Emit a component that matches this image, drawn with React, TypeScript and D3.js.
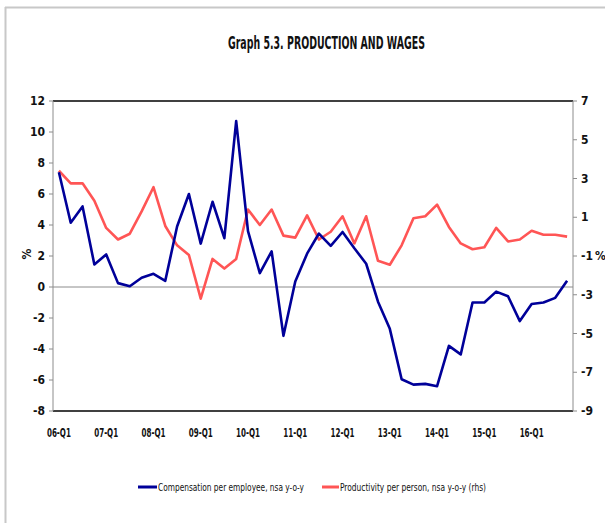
import React from 'react';
import * as d3 from 'd3';

// quarters 06-Q1 .. 16-Q4
const years = ['06', '07', '08', '09', '10', '11', '12', '13', '14', '15', '16'];
const quarters = years.flatMap(y => ['Q1', 'Q2', 'Q3', 'Q4'].map(q => `${y}-${q}`));

const compensation = [
  7.4, 4.15, 5.2, 1.45, 2.1, 0.25, 0.05, 0.6, 0.85, 0.4,
  3.9, 6.0, 2.8, 5.5, 3.15, 10.7, 3.6, 0.9, 2.3, -3.15,
  0.35, 2.15, 3.45, 2.65, 3.55, 2.5, 1.5, -0.95, -2.7, -5.95,
  -6.3, -6.25, -6.4, -3.8, -4.35, -1.0, -1.0, -0.3, -0.6, -2.2,
  -1.1, -1.0, -0.7, 0.4,
];

const productivity = [
  3.4, 2.75, 2.75, 1.85, 0.45, -0.15, 0.15, 1.3, 2.55, 0.55,
  -0.45, -0.95, -3.2, -1.15, -1.65, -1.15, 1.4, 0.6, 1.4, 0.05,
  -0.05, 1.1, -0.15, 0.25, 1.05, -0.35, 1.05, -1.25, -1.45, -0.45,
  0.95, 1.05, 1.65, 0.5, -0.35, -0.65, -0.55, 0.45, -0.25, -0.15,
  0.3, 0.1, 0.1, 0.0,
];

const leftTicks = [12, 10, 8, 6, 4, 2, 0, -2, -4, -6, -8];
const rightTicks = [7, 5, 3, 1, -1, -3, -5, -7, -9];

const W = 605;
const H = 523;
const m = { left: 53, right: 573, top: 101, bottom: 411 };
const font = "'DejaVu Sans Condensed', 'DejaVu Sans', sans-serif";
const BLUE = '#000099';
const RED = '#FF5555';
const txt = { fontStretch: 'condensed' as const };

export default function App() {
  const x = d3.scaleBand<string>().domain(quarters).range([m.left, m.right]).padding(0);
  const cx = (q: string) => (x(q) ?? 0) + x.bandwidth() / 2;
  const yL = d3.scaleLinear().domain([-8, 12]).range([m.bottom, m.top]);
  const yR = d3.scaleLinear().domain([-9, 7]).range([m.bottom, m.top]);

  const lineL = d3.line<number>().x((_, i) => cx(quarters[i])).y(d => yL(d));
  const lineR = d3.line<number>().x((_, i) => cx(quarters[i])).y(d => yR(d));

  return (
    <div style={{ position: 'absolute', left: 0, top: 0 }}>
      <svg width={W} height={H} style={{ display: 'block', fontFamily: font }}>
        <rect x={0} y={0} width={W} height={H} fill="#fff" />
        {/* outer frame */}
        <line x1={5.5} y1={7} x2={5.5} y2={H} stroke="#c8c8c8" strokeWidth={2} />
        <line x1={5} y1={7.5} x2={W} y2={7.5} stroke="#c8c8c8" strokeWidth={2} />

        <text x={228} y={49} fontSize={17} fontWeight="bold" fill="#111" style={txt}
          textLength={197} lengthAdjust="spacingAndGlyphs">
          Graph 5.3. PRODUCTION AND WAGES
        </text>

        {/* zero line */}
        <line x1={m.left} x2={m.right} y1={yL(0)} y2={yL(0)} stroke="#8c8c8c" strokeWidth={1} />

        {/* plot frame */}
        <line x1={m.left} x2={m.right} y1={m.top} y2={m.top} stroke="#000" strokeWidth={1.5} />
        <line x1={m.left} x2={m.right} y1={m.bottom} y2={m.bottom} stroke="#000" strokeWidth={1.5} />
        <line x1={m.left} x2={m.left} y1={m.top} y2={m.bottom} stroke="#8c8c8c" strokeWidth={1} />
        <line x1={m.right} x2={m.right} y1={m.top} y2={m.bottom} stroke="#8c8c8c" strokeWidth={1} />

        {/* left axis */}
        {leftTicks.map(t => (
          <g key={`l${t}`}>
            <line x1={m.left - 4} x2={m.left} y1={yL(t)} y2={yL(t)} stroke="#8c8c8c" />
            <text x={45} y={yL(t)} dy="0.35em" textAnchor="end" fontSize={12} fontWeight="bold" fill="#111" style={txt}>
              {t}
            </text>
          </g>
        ))}
        <text transform={`translate(31, ${yL(2) - 2}) rotate(-90)`} textAnchor="middle" fontSize={12} fontWeight="bold" fill="#111" style={txt}>
          %
        </text>

        {/* right axis */}
        {rightTicks.map(t => (
          <g key={`r${t}`}>
            <line x1={m.right} x2={m.right + 4} y1={yR(t)} y2={yR(t)} stroke="#8c8c8c" />
            <text x={581} y={yR(t)} dy="0.35em" textAnchor="start" fontSize={12} fontWeight="bold" fill="#111" style={txt}>
              {t}
            </text>
          </g>
        ))}
        <text x={595} y={yR(-1)} dy="0.35em" fontSize={12} fontWeight="bold" fill="#111" style={txt}>%</text>

        {/* x axis labels */}
        {quarters.filter(q => q.endsWith('Q1')).map(q => (
          <text key={q} x={cx(q) - 12} y={437} fontSize={12.5} fontWeight="bold" fill="#111" style={txt}
            textLength={24} lengthAdjust="spacingAndGlyphs">
            {q}
          </text>
        ))}

        {/* series */}
        <path d={lineR(productivity) ?? ''} fill="none" stroke={RED} strokeWidth={2.6} strokeLinejoin="round" />
        <path d={lineL(compensation) ?? ''} fill="none" stroke={BLUE} strokeWidth={2.6} strokeLinejoin="round" />

        {/* legend */}
        <line x1={138} x2={157} y1={487} y2={487} stroke={BLUE} strokeWidth={3} />
        <text x={158} y={487} dy="0.35em" fontSize={10.5} fill="#111" style={txt}
          textLength={146} lengthAdjust="spacingAndGlyphs">
          Compensation per employee, nsa y-o-y
        </text>
        <line x1={322} x2={339} y1={487} y2={487} stroke={RED} strokeWidth={3} />
        <text x={340} y={487} dy="0.35em" fontSize={10.5} fill="#111" style={txt}
          textLength={146} lengthAdjust="spacingAndGlyphs">
          Productivity per person, nsa y-o-y (rhs)
        </text>
      </svg>
    </div>
  );
}
